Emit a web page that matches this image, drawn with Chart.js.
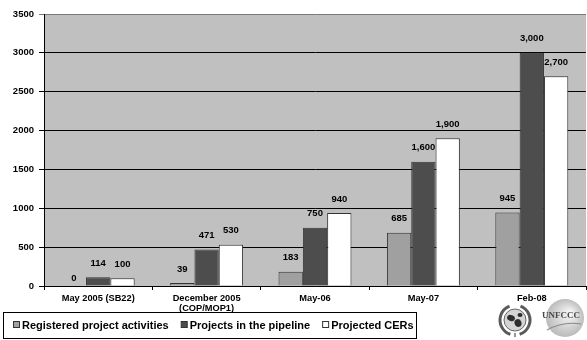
<!DOCTYPE html>
<html>
<head>
<meta charset="utf-8">
<script src="https://cdn.jsdelivr.net/npm/chart.js@4/dist/chart.umd.min.js"></script>
<style>
  html, body { margin: 0; padding: 0; background: #ffffff; }
  #wrap { position: relative; width: 587px; height: 340px; }
</style>
</head>
<body>
<div id="wrap"><canvas id="c" width="587" height="340"></canvas></div>
<script>
// Categories and series
const categories = [
  'May 2005 (SB22)',
  ['December 2005', '(COP/MOP1)'],
  'May-06',
  'May-07',
  'Feb-08'
];
const registeredActivities = [0, 39, 183, 685, 945];
const pipelineProjects = [114, 471, 750, 1600, 3000];
const projectedCERs = [100, 530, 940, 1900, 2700];
const yTicks = [0, 500, 1000, 1500, 2000, 2500, 3000, 3500];

const FONT = 'Liberation Sans, Arial, sans-serif';

// Grey plot background
const plotBackground = {
  id: 'plotBackground',
  beforeDraw(chart) {
    const { ctx, chartArea: a } = chart;
    ctx.save();
    ctx.fillStyle = '#c0c0c0';
    ctx.fillRect(a.left, a.top, a.right - a.left, a.bottom - a.top);
    ctx.restore();
  }
};

// Value labels above every bar (zero-height bars get theirs just above the axis)
const valueLabels = {
  id: 'valueLabels',
  afterDatasetsDraw(chart) {
    const { ctx } = chart;
    ctx.save();
    ctx.font = 'bold 9.5px ' + FONT;
    ctx.fillStyle = '#000';
    ctx.textAlign = 'center';
    ctx.textBaseline = 'middle';
    chart.data.datasets.forEach((ds, di) => {
      const meta = chart.getDatasetMeta(di);
      meta.data.forEach((bar, i) => {
        const v = ds.data[i];
        const y = bar.y - (v === 0 ? 8 : 14);
        ctx.fillText(v.toLocaleString('en-US'), bar.x, y);
      });
    });
    ctx.restore();
  }
};

// Framed legend along the bottom, plus the two emblems to its right
const bottomLegend = {
  id: 'bottomLegend',
  afterDraw(chart) {
    const { ctx } = chart;
    ctx.save();
    const top = 312, h = 26, left = 3;
    ctx.font = 'bold 11px ' + FONT;
    ctx.textBaseline = 'middle';
    ctx.textAlign = 'left';
    let x = left + 10;
    const cy = top + h / 2;
    chart.data.datasets.forEach((ds, i) => {
      ctx.fillStyle = ds.backgroundColor;
      ctx.fillRect(x + 0.5, cy - 3.5, 6, 6);
      ctx.strokeStyle = '#333';
      ctx.lineWidth = 1;
      ctx.strokeRect(x + 0.5, cy - 3.5, 6, 6);
      ctx.fillStyle = '#000';
      ctx.fillText(ds.label, x + 9, cy + 0.5);
      x += 9 + ctx.measureText(ds.label).width + 12;
    });
    const right = x - 12 + 2;
    ctx.strokeStyle = '#000';
    ctx.lineWidth = 1;
    ctx.strokeRect(left + 0.5, top + 0.5, Math.round(right - left), h);

    // UN emblem
    const ex = 515, ey = 320;
    ctx.strokeStyle = '#5a5a5a';
    ctx.lineWidth = 3;
    ctx.beginPath(); ctx.arc(ex, ey, 15, Math.PI * 0.6, Math.PI * 1.38); ctx.stroke();
    ctx.beginPath(); ctx.arc(ex, ey, 15, Math.PI * 1.62, Math.PI * 2.4); ctx.stroke();
    ctx.fillStyle = '#d4d4d4';
    ctx.beginPath(); ctx.arc(ex, ey, 11, 0, Math.PI * 2); ctx.fill();
    ctx.strokeStyle = '#666'; ctx.lineWidth = 1;
    ctx.stroke();
    ctx.fillStyle = '#2e2e2e';
    ctx.beginPath(); ctx.ellipse(ex - 4, ey - 2, 4, 3, 0.4, 0, Math.PI * 2); ctx.fill();
    ctx.beginPath(); ctx.ellipse(ex + 3, ey + 3, 3.5, 4, -0.3, 0, Math.PI * 2); ctx.fill();
    ctx.beginPath(); ctx.ellipse(ex + 5, ey - 5, 2.5, 2, 0, 0, Math.PI * 2); ctx.fill();
    ctx.fillRect(ex - 0.5, ey + 13, 1, 4);

    // UNFCCC mark
    const gx = 565, gy = 318;
    const grad = ctx.createRadialGradient(gx + 5, gy - 5, 2, gx, gy, 20);
    grad.addColorStop(0, '#f4f4f4');
    grad.addColorStop(1, '#b8b8b8');
    ctx.fillStyle = grad;
    ctx.beginPath(); ctx.arc(gx, gy, 19, 0, Math.PI * 2); ctx.fill();
    ctx.fillStyle = '#4a4a4a';
    ctx.font = 'bold 9px "Liberation Serif", serif';
    ctx.textAlign = 'center';
    ctx.fillText('UNFCCC', gx - 4, gy - 2);
    ctx.strokeStyle = '#8a8a8a'; ctx.lineWidth = 1.2;
    ctx.beginPath(); ctx.moveTo(gx - 18, gy + 12); ctx.quadraticCurveTo(gx - 2, gy + 3, gx + 16, gy + 6); ctx.stroke();
    ctx.restore();
  }
};

const ctx = document.getElementById('c').getContext('2d');
new Chart(ctx, {
  type: 'bar',
  data: {
    labels: categories,
    datasets: [
      { label: 'Registered project activities', data: registeredActivities,
        backgroundColor: '#a0a0a0', borderColor: '#333333', borderWidth: 1 },
      { label: 'Projects in the pipeline', data: pipelineProjects,
        backgroundColor: '#4d4d4d', borderColor: '#333333', borderWidth: 1 },
      { label: 'Projected CERs', data: projectedCERs,
        backgroundColor: '#ffffff', borderColor: '#333333', borderWidth: 1 }
    ]
  },
  options: {
    responsive: false,
    animation: false,
    devicePixelRatio: 1,
    layout: { padding: { top: 14, right: 1, left: 0, bottom: 28 } },
    datasets: { bar: { categoryPercentage: 0.673, barPercentage: 1.0 } },
    scales: {
      x: {
        grid: { display: true, offset: true, drawOnChartArea: false, color: '#000', tickLength: 4 },
        border: { display: true, color: '#000', width: 1 },
        ticks: {
          font: { family: FONT, size: 9.25, weight: 'bold', lineHeight: 1.1 }, color: '#000',
          maxRotation: 0, autoSkip: false, padding: 3
        },
        afterFit(scale) { scale.height = 26; }
      },
      y: {
        min: 0, max: 3500,
        afterBuildTicks(scale) { scale.ticks = yTicks.map(v => ({ value: v })); },
        grid: {
          color: c => (c.tick && c.tick.value === 3500 ? '#7a7a7a' : '#000'),
          lineWidth: 1, tickLength: 5
        },
        border: { display: true, color: '#000', width: 1 },
        ticks: {
          font: { family: FONT, size: 9.5, weight: 'bold' }, color: '#000', padding: 5,
          callback: v => String(v)
        },
        afterFit(scale) { scale.width = 44; }
      }
    },
    plugins: {
      legend: { display: false },
      tooltip: { enabled: false }
    }
  },
  plugins: [plotBackground, valueLabels, bottomLegend]
});
</script>
</body>
</html>
